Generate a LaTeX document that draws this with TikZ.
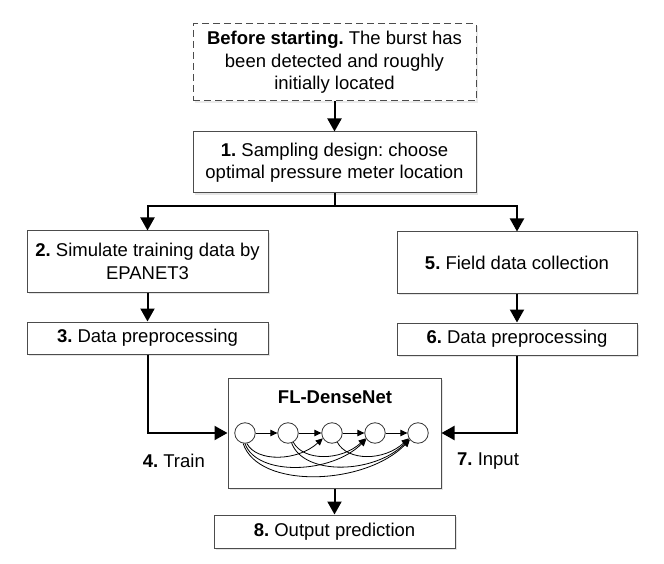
\documentclass[tikz,border=0pt]{standalone}
\usepackage{fontspec}
\setmainfont{Liberation Sans}
\usetikzlibrary{arrows.meta,shadows}
\begin{document}
\frenchspacing
\begin{tikzpicture}[x=1pt,y=-1pt,
  every node/.style={font=\fontsize{18.5}{22.5}\selectfont},
  box/.style={draw=black!70,line width=1pt,fill=white,align=center,inner sep=1pt,
    drop shadow={shadow xshift=2pt,shadow yshift=-2pt,opacity=0.25,fill=black!40}},
  dbox/.style={draw=black!70,line width=1pt,dashed,dash pattern=on 7pt off 4pt,fill=white,align=center,inner sep=1pt,
    drop shadow={shadow xshift=2pt,shadow yshift=-2pt,opacity=0.2,fill=black!40}},
  conn/.style={line width=2pt,draw=black},
  arr/.style={conn,-{Triangle[length=13pt,width=14pt]}},
  neuron/.style={circle,draw=black!80,line width=0.8pt,minimum size=20.5pt,inner sep=0pt,fill=white},
  sarr/.style={line width=0.8pt,-{Triangle[length=7pt,width=6.5pt]}},
  lbl/.style={inner sep=0pt}]
\useasboundingbox (0,0) rectangle (664,564);
\node[dbox,minimum width=283pt,minimum height=77pt] (top) at (334.5,62.5)
  {\textbf{Before starting.} The burst has\\been detected and roughly\\initially located};
\node[box,minimum width=283pt,minimum height=61pt] (b1) at (334.5,162.5)
  {\textbf{1.} Sampling design: choose\\optimal pressure meter location};
\node[box,minimum width=241pt,minimum height=61pt] (b2) at (147.5,261.5)
  {\textbf{2.} Simulate training data by\\EPANET3};
\node[box,minimum width=241pt,minimum height=32pt] (b3) at (147.5,338)
  {\textbf{3.} Data preprocessing};
\node[box,minimum width=240pt,minimum height=61pt] (b5) at (517,262.5)
  {\textbf{5.} Field data collection};
\node[box,minimum width=240pt,minimum height=32pt] (b6) at (517,339)
  {\textbf{6.} Data preprocessing};
\node[box,minimum width=213pt,minimum height=110pt] (dn) at (334.5,433) {};
\node[lbl] (dnt) at (335,397) {\textbf{FL-DenseNet}};
\node[box,minimum width=241pt,minimum height=33pt] (b8) at (334.5,531.5)
  {\textbf{8.} Output prediction};
% neurons
\node[neuron] (c1) at (245,433) {};
\node[neuron] (c2) at (288,433) {};
\node[neuron] (c3) at (332,433) {};
\node[neuron] (c4) at (375,433) {};
\node[neuron] (c5) at (418,433) {};
\draw[sarr] (c1) -- (c2);
\draw[sarr] (c2) -- (c3);
\draw[sarr] (c3) -- (c4);
\draw[sarr] (c4) -- (c5);
\draw[sarr] (c1.-80) .. controls +(10,19) and +(-25,23) .. (c3.210);
\draw[sarr] (c2.-60) .. controls +(10,19) and +(-25,23) .. (c4.210);
\draw[sarr] (c3.-60) .. controls +(10,19) and +(-25,23) .. (c5.210);
\draw[sarr] (c1.-90) .. controls +(12,33) and +(-35,35) .. (c4.215);
\draw[sarr] (c2.-70) .. controls +(12,33) and +(-35,35) .. (c5.215);
\draw[sarr] (c1.-100) .. controls +(15,46) and +(-45,46) .. (c5.220);
% connectors
\coordinate (j) at (334.5,206);
\draw[arr] (top.south) -- (b1.north);
\draw[conn] (b1.south) -- (j);
\draw[arr] (j) -| (b2.north);
\draw[arr] (j) -| (b5.north);
\draw[arr] (b2.south) -- (b3.north);
\draw[arr] (b5.south) -- (b6.north);
\draw[arr] (b3.south) |- (dn.west);
\draw[arr] (b6.south) |- (dn.east);
\draw[arr] (dn.south) -- (b8.north);
\node[lbl,anchor=east] (tr) at (205,461) {\textbf{4.} Train};
\node[lbl,anchor=west] (in) at (457,461) {\textbf{7.} Input};
\end{tikzpicture}
\end{document}
